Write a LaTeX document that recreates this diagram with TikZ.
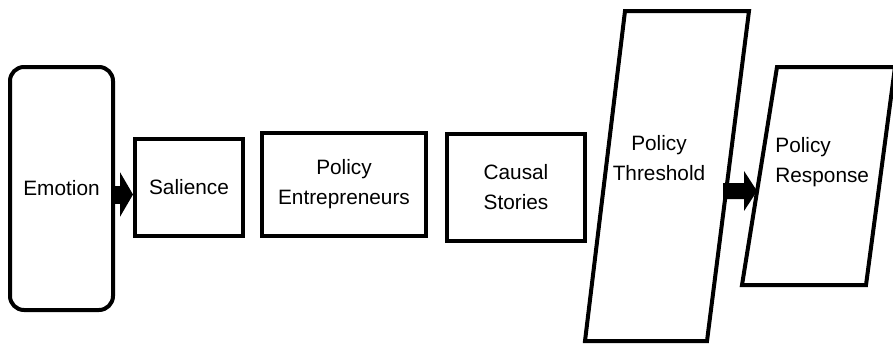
\documentclass[tikz,border=0pt]{standalone}
\usepackage{fontspec}
\setmainfont{Liberation Sans}
\usetikzlibrary{arrows.meta,calc}

\tikzset{
  stage/.style={draw=black, line width=2pt, rectangle, inner sep=0pt,
                align=center, font=\fontsize{10.4}{15}\selectfont},
  label/.style={inner sep=0pt, font=\fontsize{10.4}{15}\selectfont},
  fatarrow/.style={line width=#1, -{Triangle[width=2.45*#1, length=6.5pt]}}
}

\begin{document}
\begin{tikzpicture}[x=0.5pt, y=-0.5pt]

\useasboundingbox (0, 0) rectangle (893, 348);
\clip (0, 0) rectangle (893, 348);

% draw the boxes
\node[stage, rounded corners=7pt, minimum width=51.5pt, minimum height=121.5pt]
  (emotion) at (61.5, 188.5) {Emotion};
\node[stage, minimum width=54pt, minimum height=48.5pt]
  (salience) at (189, 187.5) {Salience};
\node[stage, minimum width=82pt, minimum height=51.5pt]
  (entrepreneurs) at (344, 184.5) {Policy\\Entrepreneurs};
\node[stage, minimum width=69pt, minimum height=53.5pt]
  (stories) at (516, 187.5) {Causal\\Stories};

% draw the threshold
\coordinate (thr-tl) at (625, 11);
\coordinate (thr-tr) at (749, 11);
\coordinate (thr-br) at (707, 341);
\coordinate (thr-bl) at (585, 341);
\draw[black, line width=2pt] (thr-tl) -- (thr-tr) -- (thr-br) -- (thr-bl) -- cycle;
\node[label, align=center] (threshold) at (659, 158) {Policy\\Threshold};

% draw the response
\coordinate (resp-tl) at (777, 67);
\coordinate (resp-tr) at (895, 67);
\coordinate (resp-br) at (866, 285);
\coordinate (resp-bl) at (742, 285);
\draw[black, line width=2pt] (resp-tl) -- (resp-tr) -- (resp-br) -- (resp-bl) -- cycle;
\node[label, align=left, anchor=west] (response) at (775, 162) {Policy\\Response};

% draw the arrows
\coordinate (thr-out) at ($(thr-br)!0.4545!(thr-tr)$);
\coordinate (resp-in) at ($(resp-bl)!0.431!(resp-tl)$);
\draw[fatarrow=9pt] ([yshift=-3pt]emotion.east) -- ([yshift=-3pt]emotion.east -| salience.west);
\draw[fatarrow=8pt] ([xshift=-1.5pt]thr-out) -- (resp-in);

\end{tikzpicture}
\end{document}
